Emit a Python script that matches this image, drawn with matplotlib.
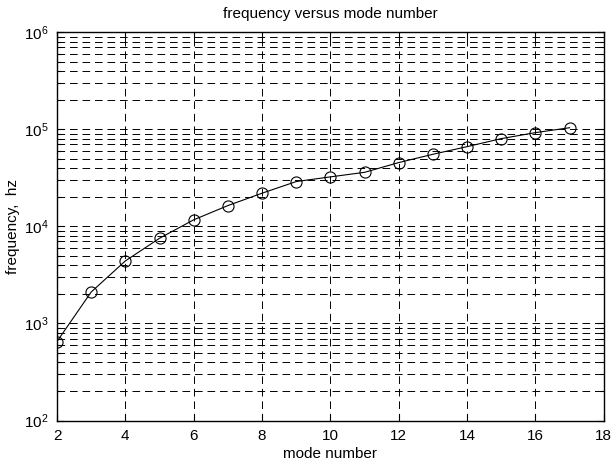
import numpy as np
import matplotlib
matplotlib.use('Agg')
import matplotlib.pyplot as plt
from matplotlib.ticker import LogLocator, FixedLocator, NullFormatter

plt.rcParams['font.family'] = ['Liberation Sans', 'DejaVu Sans']
plt.rcParams['mathtext.fontset'] = 'custom'
plt.rcParams['mathtext.rm'] = 'Liberation Sans'
plt.rcParams['mathtext.it'] = 'Liberation Sans'
plt.rcParams['lines.scale_dashes'] = False

# datos
modo = [2, 3, 4, 5, 6, 7, 8, 9, 10, 11, 12, 13, 14, 15, 16, 17]
frecuencia = [652, 2110, 4410, 7550, 11700, 16400, 22000, 29000, 32400,
              36100, 45500, 55400, 66400, 80300, 92600, 104000]

x_ticks = [2, 4, 6, 8, 10, 12, 14, 16, 18]

fig = plt.figure(figsize=(6.15, 4.66), dpi=100)
ax = fig.add_axes([0.0927, 0.0976, 0.889, 0.833])

ax.plot(modo, frecuencia, color='black', lw=0.8, marker='o', markersize=8,
        markerfacecolor='none', markeredgecolor='black', markeredgewidth=0.8)

ax.set_yscale('log')
ax.set_xlim(2, 18)
ax.set_ylim(1e2, 1e6)
ax.xaxis.set_major_locator(FixedLocator(x_ticks))
ax.yaxis.set_major_locator(LogLocator(base=10, numticks=10))
ax.yaxis.set_minor_locator(LogLocator(base=10, subs=np.arange(2, 10), numticks=20))
ax.yaxis.set_minor_formatter(NullFormatter())

dash = (0, (5.5, 3.5))
ax.grid(True, which='major', axis='both', color='black', lw=0.7, linestyle=dash)
ax.grid(True, which='minor', axis='y', color='black', lw=0.7, linestyle=dash)

ax.tick_params(which='both', direction='in', top=True, right=True, labelsize=11,
               width=0.8, pad=6)
ax.tick_params(which='major', length=5)
ax.tick_params(which='minor', length=3)
for s in ax.spines.values():
    s.set_linewidth(1.0)

ax.set_title('frequency versus mode number', fontsize=11, pad=10)
ax.set_xlabel('mode number', fontsize=11, labelpad=3)
ax.set_ylabel('frequency,  hz', fontsize=11, labelpad=3)

plt.savefig('out.png', dpi=100)
